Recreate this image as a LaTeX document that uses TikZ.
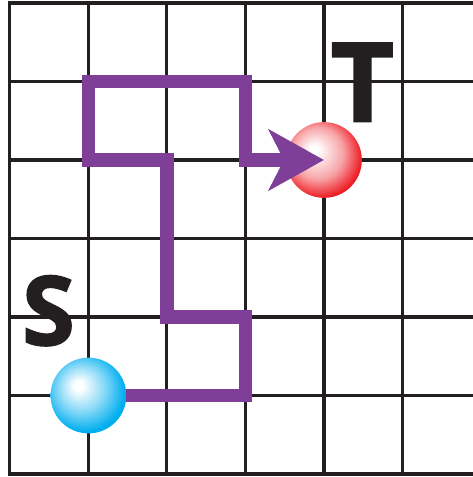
\documentclass[tikz,border=0pt]{standalone}
\usepackage{fontspec}
\setsansfont{Open Sans}
\newfontfamily\letterfont{Open Sans}[BoldFeatures={FakeBold=1.3}]
\usetikzlibrary{arrows.meta}

\definecolor{gridblack}{HTML}{231F20}
\definecolor{routepurple}{HTML}{7F3F98}
\definecolor{startblue}{HTML}{00AEEF}
\definecolor{targetred}{HTML}{ED1C24}

% highlight sits up and to the left of the centre
\pgfdeclareradialshading{blueball}{\pgfpoint{-7bp}{7bp}}{%
  color(0bp)=(white); color(3bp)=(white); color(16bp)=(startblue!50!white);
  color(27bp)=(startblue); color(50bp)=(startblue)}
\pgfdeclareradialshading{redball}{\pgfpoint{-7bp}{7bp}}{%
  color(0bp)=(white); color(3bp)=(white); color(17bp)=(targetred!40!white);
  color(28bp)=(targetred); color(50bp)=(targetred)}

\begin{document}
\begin{tikzpicture}[x=2cm, y=2cm,
    gridline/.style={draw=gridblack, line width=2.2pt, line cap=rect},
    route/.style={draw=routepurple, line width=9.6pt, line join=miter,
      -{Stealth[length=40pt, width=44pt, inset=11pt]}},
    ballnode/.style={circle, minimum size=1.93cm, inner sep=0pt},
    letter/.style={text=gridblack, inner sep=0pt}]
    \useasboundingbox (-0.127, -0.038) rectangle (5.898, 6.038);

    % the grid
    \foreach \x in {0,...,5}
        \draw[gridline] (\x, 0) -- (\x, 6);
    \foreach \y in {0,...,6}
        \draw[gridline] (0, \y) -- (5.95, \y);

    % labels
    \node[letter, font=\letterfont\bfseries\fontsize{70}{70}\selectfont] (slabel) at (0.49, 2.08) {S};
    \node[letter, font=\letterfont\bfseries\fontsize{80}{80}\selectfont] (tlabel) at (4.49, 4.99) {T};

    % target, then the route, then the start on top
    \node[ballnode, shading=redball] (target) at (4, 4) {};
    \draw[route] (1, 1) coordinate (routestart) -| (3, 2) -| (2, 4) -| (1, 5) -| (3, 4) -- (target.center);
    \node[ballnode, shading=blueball] (start) at (routestart) {};
\end{tikzpicture}
\end{document}
